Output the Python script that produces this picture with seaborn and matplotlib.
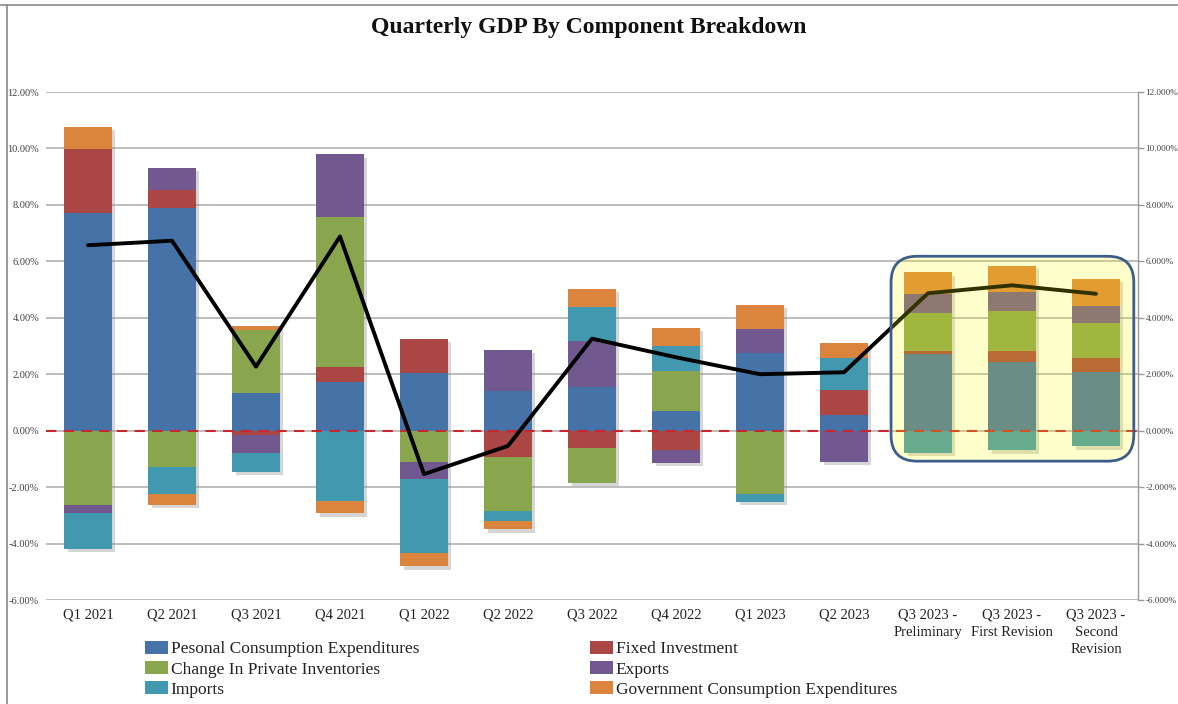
import numpy as np
import pandas as pd
import matplotlib
matplotlib.use("Agg")
import matplotlib.pyplot as plt
import matplotlib.patheffects as pe
from matplotlib.patches import FancyBboxPatch, Patch
from matplotlib.lines import Line2D
from matplotlib.ticker import FuncFormatter
import seaborn as sns

# ---------------- data ----------------
categories = ["Q1 2021", "Q2 2021", "Q3 2021", "Q4 2021", "Q1 2022", "Q2 2022",
              "Q3 2022", "Q4 2022", "Q1 2023", "Q2 2023",
              "Q3 2023 -\nPreliminary", "Q3 2023 -\nFirst Revision",
              "Q3 2023 -\nSecond\nRevision"]

pce = [7.72, 7.90, 1.33, 1.73, 2.04, 1.39, 1.53, 0.69, 2.76, 0.54, 2.70, 2.45, 2.09]
fixed_inv = [2.25, 0.64, -0.15, 0.52, 1.22, -0.92, -0.62, -0.70, 0.00, 0.90, 0.14, 0.39, 0.48]
inventories = [-2.63, -1.28, 2.22, 5.31, -1.10, -1.94, -1.22, 1.44, -2.26, 0.00, 1.32, 1.41, 1.26]
exports = [-0.30, 0.78, -0.63, 2.24, -0.62, 1.48, 1.65, -0.43, 0.86, -1.10, 0.68, 0.66, 0.58]
imports = [-1.25, -0.98, -0.68, -2.50, -2.60, -0.33, 1.19, 0.87, -0.25, 1.13, -0.78, -0.70, -0.56]
gov = [0.79, -0.36, 0.17, -0.43, -0.48, -0.30, 0.66, 0.64, 0.85, 0.55, 0.78, 0.94, 0.98]
gdp = [6.57, 6.73, 2.27, 6.88, -1.54, -0.54, 3.26, 2.60, 2.00, 2.07, 4.87, 5.15, 4.85]

series_names = ["Pesonal Consumption Expenditures", "Fixed Investment",
                "Change In Private Inventories", "Exports", "Imports",
                "Government Consumption Expenditures"]
series_values = [pce, fixed_inv, inventories, exports, imports, gov]
series_colors = ["#4572A7", "#AA4643", "#89A54E", "#71588F", "#4198AF", "#DB843D"]

y_ticks = [-6, -4, -2, 0, 2, 4, 6, 8, 10, 12]

# ---------------- figure ----------------
sns.set_theme(style="white")
plt.rcParams["font.family"] = ["Liberation Serif", "DejaVu Serif"]

fig = plt.figure(figsize=(11.78, 7.04), dpi=100)
fig.patch.set_facecolor("white")
ax = fig.add_axes([46 / 1178, 1 - 600 / 704, (1138 - 46) / 1178, (600 - 92) / 704])
ax.set_facecolor("white")

# gridlines
ax.set_axisbelow(True)
ax.yaxis.grid(True, color="#ABABAB", linewidth=1.1)
ax.xaxis.grid(False)


def draw_stacks(effects, zorder):
    pos_base = np.zeros(len(categories))
    neg_base = np.zeros(len(categories))
    for name, vals, col in zip(series_names, series_values, series_colors):
        v = np.array(vals, dtype=float)
        bottoms = np.where(v >= 0, pos_base, neg_base)
        df = pd.DataFrame({"quarter": categories, "value": v})
        sns.barplot(data=df, x="quarter", y="value", color=col, bottom=bottoms,
                    width=0.57, errorbar=None, ax=ax, saturation=1,
                    edgecolor="none", linewidth=0, path_effects=effects,
                    zorder=zorder)
        pos_base = pos_base + np.where(v >= 0, v, 0)
        neg_base = neg_base + np.where(v < 0, v, 0)


# soft drop shadow first, then the stacked bars themselves
draw_stacks([pe.SimplePatchShadow(offset=(2.5, -2.5), shadow_rgbFace="#8C8C8C", alpha=0.35)], 1.5)
draw_stacks(None, 2)

# GDP line
df_line = pd.DataFrame({"quarter": categories, "gdp": gdp})
sns.lineplot(data=df_line, x="quarter", y="gdp", color="black", linewidth=2.8,
             ax=ax, sort=False, legend=False, zorder=5)

# zero line
ax.axhline(0, color="#C8282D", linewidth=1.5, linestyle=(0, (5, 3.5)), zorder=4)

ax.set_ylim(-6, 12)
ax.set_xlim(-0.5, len(categories) - 0.5)
ax.set_yticks(y_ticks)
ax.yaxis.set_major_formatter(FuncFormatter(lambda v, p: f"{v:.2f}%"))
ax.tick_params(axis="y", which="both", length=0, labelsize=7.5, colors="#404040", pad=5)
ax.tick_params(axis="x", length=0, labelsize=10.5, colors="#222222", pad=6)
ax.set_xlabel("")
ax.set_ylabel("")
for s in ax.spines.values():
    s.set_visible(False)
for lbl in ax.get_xticklabels():
    lbl.set_linespacing(1.45)
    lbl.set_verticalalignment("top")

# secondary axis on the right
ax2 = ax.twinx()
ax2.set_ylim(-6, 12)
ax2.set_yticks(y_ticks)
ax2.yaxis.set_major_formatter(FuncFormatter(lambda v, p: f"{v:.3f}%"))
ax2.tick_params(axis="y", length=4, width=1, color="#9A9A9A", labelsize=6.6,
                labelcolor="#404040", pad=1.5)
for k, s in ax2.spines.items():
    s.set_visible(k == "right")
ax2.spines["right"].set_color("#9A9A9A")
ax2.spines["right"].set_linewidth(1)
ax2.grid(False)

# highlight box around Q3 2023 estimates
n = len(categories)
box_x0, box_x1 = n - 3 - 0.44, n - 1 + 0.45
box_y0, box_y1 = -1.08, 6.18
px_x = 1092 / n
px_y = 508 / 18
box = FancyBboxPatch((box_x0, box_y0), box_x1 - box_x0, box_y1 - box_y0,
                     boxstyle="round,pad=0,rounding_size=0.31",
                     mutation_aspect=px_x / px_y,
                     facecolor=(1.0, 1.0, 0.0, 0.2), edgecolor="#3D5D8C",
                     linewidth=2, zorder=6)
ax.add_patch(box)

# legend (two columns, row-major like the original)
handles = [Patch(facecolor=c, edgecolor="none") for c in series_colors]
leg_kw = dict(frameon=False, fontsize=12.5, handlelength=1.35, handleheight=0.75,
              handletextpad=0.12, labelspacing=0.22, borderpad=0, borderaxespad=0)
leg1 = fig.legend([handles[0], handles[2], handles[4]],
                  [series_names[0], series_names[2], series_names[4]],
                  loc="upper left", bbox_to_anchor=(145 / 1178, 1 - 641 / 704), **leg_kw)
leg2 = fig.legend([handles[1], handles[3], handles[5]],
                  [series_names[1], series_names[3], series_names[5]],
                  loc="upper left", bbox_to_anchor=(590 / 1178, 1 - 641 / 704), **leg_kw)
for leg in (leg1, leg2):
    for t in leg.get_texts():
        t.set_color("#222222")
if ax.get_legend() is not None:
    ax.get_legend().remove()

# title
fig.text(0.5, 1 - 28 / 704, "Quarterly GDP By Component Breakdown", ha="center",
         va="center", fontsize=17, fontweight="bold", color="#111111")

# screenshot border lines (top and left)
fig.add_artist(Line2D([0, 1], [1 - 5 / 704, 1 - 5 / 704], transform=fig.transFigure,
                      color="#8A8A8A", linewidth=1.2))
fig.add_artist(Line2D([7 / 1178, 7 / 1178], [0, 1 - 5 / 704], transform=fig.transFigure,
                      color="#8A8A8A", linewidth=1.2))

fig.savefig("out.png", dpi=100)
